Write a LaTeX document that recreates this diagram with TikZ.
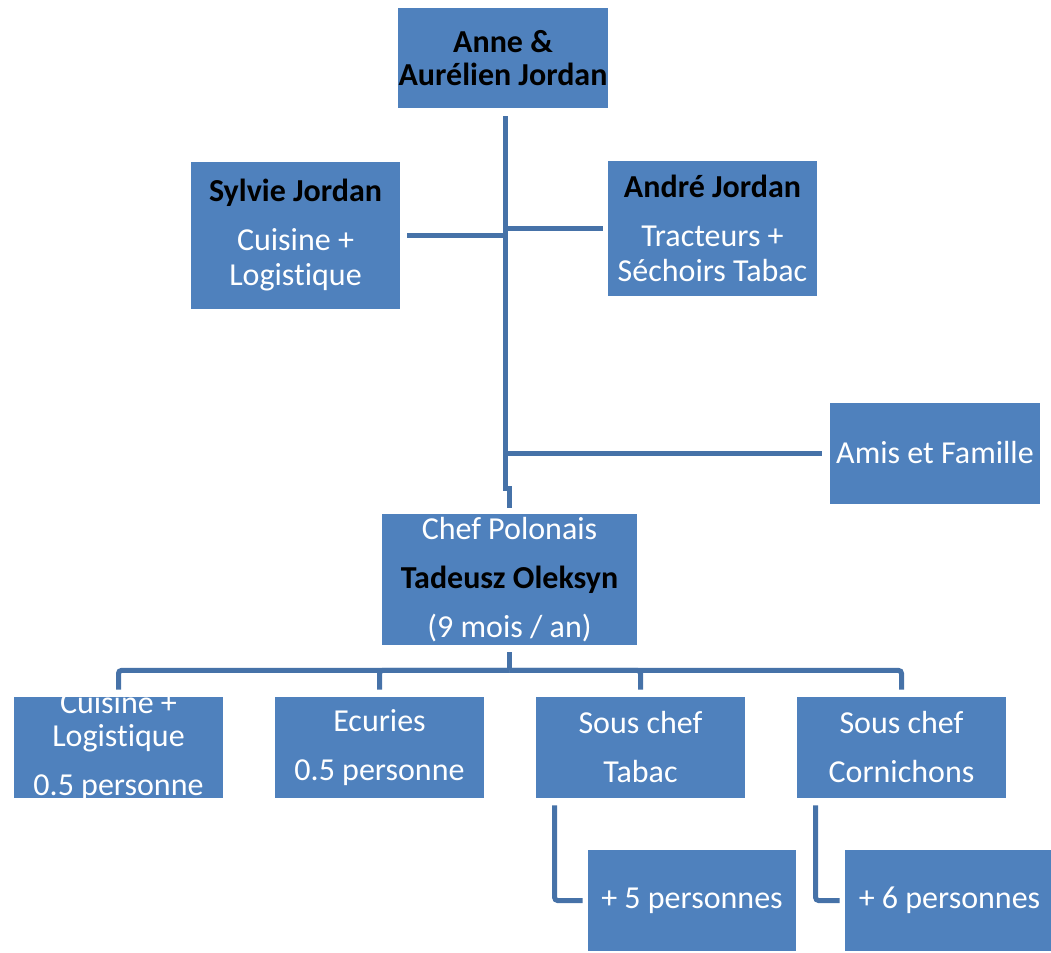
\documentclass[tikz,border=0pt]{standalone}
\usepackage{fontspec}
\setmainfont{Carlito}[Ligatures=NoCommon]
\usepackage{tikz}
\definecolor{boxblue}{HTML}{4F81BD}
\definecolor{lineblue}{HTML}{4672A8}
\newcommand{\who}[1]{{\color{black}\bfseries #1}}

\begin{document}
\begin{tikzpicture}[x=0.5pt,y=-0.5pt,
  box/.style={fill=boxblue,draw=none,text=white,align=center,inner sep=0pt,
    minimum width=104.5pt,minimum height=50.5pt,font=\fontsize{16}{17.5}\selectfont},
  conn/.style={draw=lineblue,line width=2.5pt,rounded corners=1.5pt}]
\useasboundingbox (0,0) rectangle (1051,953);
% top of the family
\node[box,minimum width=105pt,minimum height=50pt] (top) at (503,58) {\who{Anne \&}\\[-1pt]\who{Aurélien Jordan}};
\node[box,minimum height=73.5pt] (sylvie) at (295.5,235.5) {\who{Sylvie Jordan}\\[7pt]Cuisine +\\Logistique};
\node[box,minimum height=67.5pt] (andre) at (712.5,228.5) {\who{André Jordan}\\[7pt]Tracteurs +\\Séchoirs Tabac};
\node[box,minimum width=105pt] (amis) at (935,453) {Amis et Famille};
\node[box,minimum width=127.5pt,minimum height=65.5pt] (chef) at (509.5,579.5) {Chef Polonais\\[7pt]\who{Tadeusz Oleksyn}\\[7pt](9 mois / an)};
% teams
\node[box] (cuisine) at (118.5,747.5) {\raisebox{-8.5pt}{\smash{\begin{tabular}{@{}c@{}}Cuisine +\\[-1pt]Logistique\\[7pt]0.5 personne\end{tabular}}}};
\node[box] (ecuries) at (379.5,747.5) {Ecuries\\[7pt]0.5 personne};
\node[box] (tabac) at (640.5,747.5) {Sous chef\\[7pt]Tabac};
\node[box] (cornichons) at (901.5,747.5) {Sous chef\\[7pt]Cornichons};
\node[box,minimum width=104pt] (p5) at (692,900.5) {+ 5 personnes};
\node[box] (p6) at (949.5,900.5) {+ 6 personnes};
% connectors
\coordinate (trunk) at ([xshift=1pt,yshift=-4pt]top.south);
\coordinate (jog) at (505,488);
\draw[conn,rounded corners=0pt] (trunk) -- (jog) -| ([yshift=3pt]chef.north);
\draw[conn] ([xshift=3.5pt]sylvie.east) -- (trunk |- sylvie.east);
\draw[conn] (trunk |- andre.west) -- ([xshift=-2.5pt]andre.west);
\draw[conn] (trunk |- amis.west) -- ([xshift=-4pt]amis.west);
\coordinate (bus) at ([yshift=-12.5pt]chef.south);
\draw[conn] ([yshift=-3.5pt]chef.south) -- (bus);
\foreach \n in {cuisine,ecuries,tabac,cornichons}
  \draw[conn] ([yshift=3.5pt]\n.north) |- (bus);
\draw[conn] ([xshift=9.5pt,yshift=-3.5pt]tabac.south west) |- ([xshift=-2.5pt]p5.west);
\draw[conn] ([xshift=9.5pt,yshift=-3.5pt]cornichons.south west) |- ([xshift=-2.5pt]p6.west);
\end{tikzpicture}
\end{document}
